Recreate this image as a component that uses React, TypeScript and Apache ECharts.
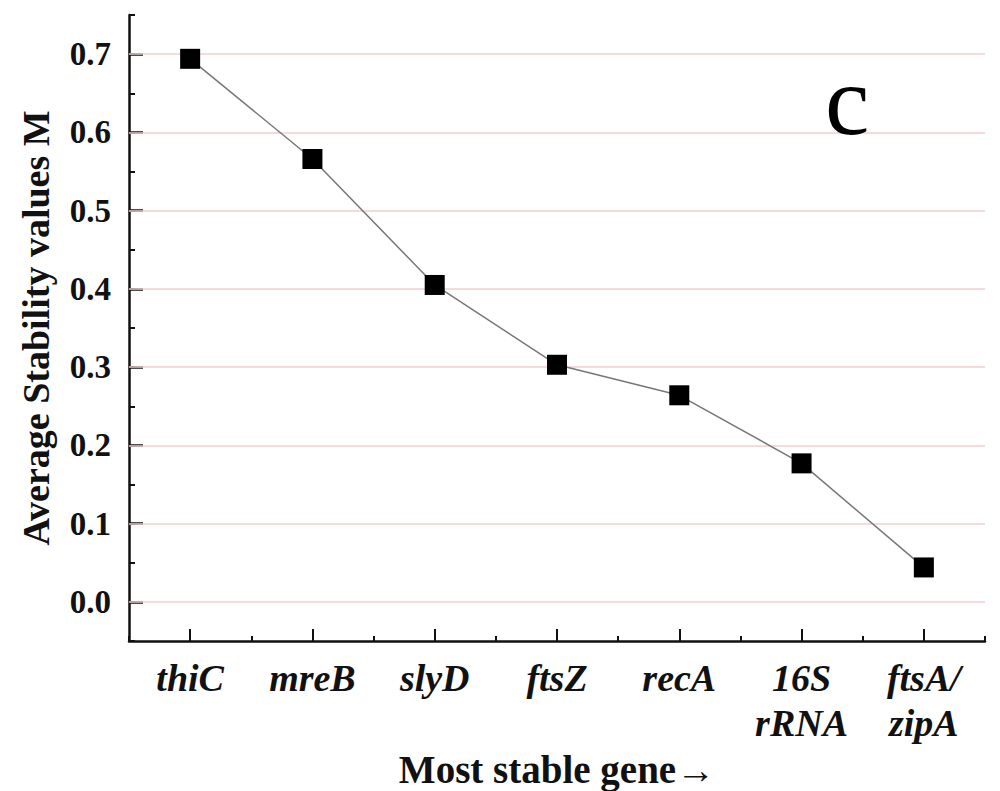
import React, { useEffect, useRef } from "react";
import * as echarts from "echarts";

const categories = ["thiC", "mreB", "slyD", "ftsZ", "recA", "16S\nrRNA", "ftsA/\nzipA"];
const values = [0.694, 0.566, 0.405, 0.303, 0.264, 0.177, 0.044];
const yMajorTicks = [0, 0.1, 0.2, 0.3, 0.4, 0.5, 0.6, 0.7];
const yMin = -0.05;
const yMax = 0.75;
const yMinorStep = 0.05;
const panelLetter = "c";
const yTitle = "Average Stability values M";
const xTitle = "Most stable gene→";

const SERIF = '"Liberation Serif", "Times New Roman", serif';

export default function App() {
  const ref = useRef<HTMLDivElement>(null);
  useEffect(() => {
    if (!ref.current) return;
    const chart = echarts.init(ref.current, null, { renderer: "svg" });
    chart.setOption({
      animation: false,
      backgroundColor: "#ffffff",
      title: {
        text: panelLetter,
        left: 825,
        top: 50,
        padding: 0,
        textStyle: { color: "#000", fontFamily: SERIF, fontSize: 100, fontWeight: "normal" },
      },
      grid: { left: 129, right: 15, top: 15, bottom: 150, containLabel: false, outerBoundsMode: "none" },
      xAxis: [
        {
          type: "category",
          data: categories,
          position: "bottom",
          boundaryGap: true,
          axisLine: { show: true, onZero: false, lineStyle: { color: "#111", width: 2.5 } },
          axisTick: { show: true, alignWithLabel: true, inside: true, length: 12, lineStyle: { color: "#111", width: 2 } },
          axisLabel: {
            show: true,
            interval: 0,
            margin: 14,
            color: "#111",
            fontFamily: SERIF,
            fontSize: 38,
            fontStyle: "italic",
            fontWeight: "bold",
            lineHeight: 45,
          },
          splitLine: { show: false },
          name: xTitle,
          nameLocation: "middle",
          nameGap: 85,
          nameTextStyle: { color: "#111", fontFamily: SERIF, fontSize: 39, fontWeight: "bold" },
        },
        {
          type: "category",
          data: categories,
          position: "bottom",
          boundaryGap: true,
          axisLine: { show: false, onZero: false },
          axisTick: { show: true, inside: true, length: 5, lineStyle: { color: "#111", width: 2 } },
          axisLabel: { show: false },
          splitLine: { show: false },
        },
      ],
      yAxis: [
        {
          type: "value",
          position: "left",
          min: yMin,
          max: yMax,
          interval: yMinorStep,
          axisLine: { show: true, onZero: false, lineStyle: { color: "#111", width: 2.5 } },
          axisTick: { show: true, inside: true, length: 6, lineStyle: { color: "#111", width: 2 } },
          axisLabel: { show: false },
          splitLine: { show: false },
        },
        {
          type: "value",
          position: "left",
          min: yMin,
          max: yMax,
          interval: yMinorStep,
          axisLine: { show: false, onZero: false },
          axisTick: { show: true, inside: true, length: 14, customValues: yMajorTicks, lineStyle: { color: "#111", width: 2.5 } },
          axisLabel: {
            show: true,
            customValues: yMajorTicks,
            margin: 18,
            color: "#111",
            fontFamily: SERIF,
            fontSize: 33,
            fontWeight: "bold",
            formatter: (v: number) => v.toFixed(1),
          },
          splitLine: { show: false },
          name: yTitle,
          nameLocation: "middle",
          nameGap: 74,
          nameTextStyle: { color: "#111", fontFamily: SERIF, fontSize: 38, fontWeight: "bold" },
        },
      ],
      series: [
        {
          type: "line",
          xAxisIndex: 0,
          yAxisIndex: 0,
          data: values,
          symbol: "rect",
          symbolSize: 20,
          itemStyle: { color: "#000" },
          lineStyle: { color: "#777", width: 1.5 },
          z: 3,
          markLine: {
            silent: true,
            symbol: "none",
            label: { show: false },
            lineStyle: { color: "#efcfd1", width: 1.5, type: "solid" },
            data: yMajorTicks.map((v) => ({ yAxis: v })),
            z: 1,
          },
        },
      ],
    });
    return () => chart.dispose();
  }, []);
  return (
    <div
      ref={ref}
      style={{ position: "fixed", left: 0, top: 0, width: 1000, height: 791, background: "#fff" }}
    />
  );
}
